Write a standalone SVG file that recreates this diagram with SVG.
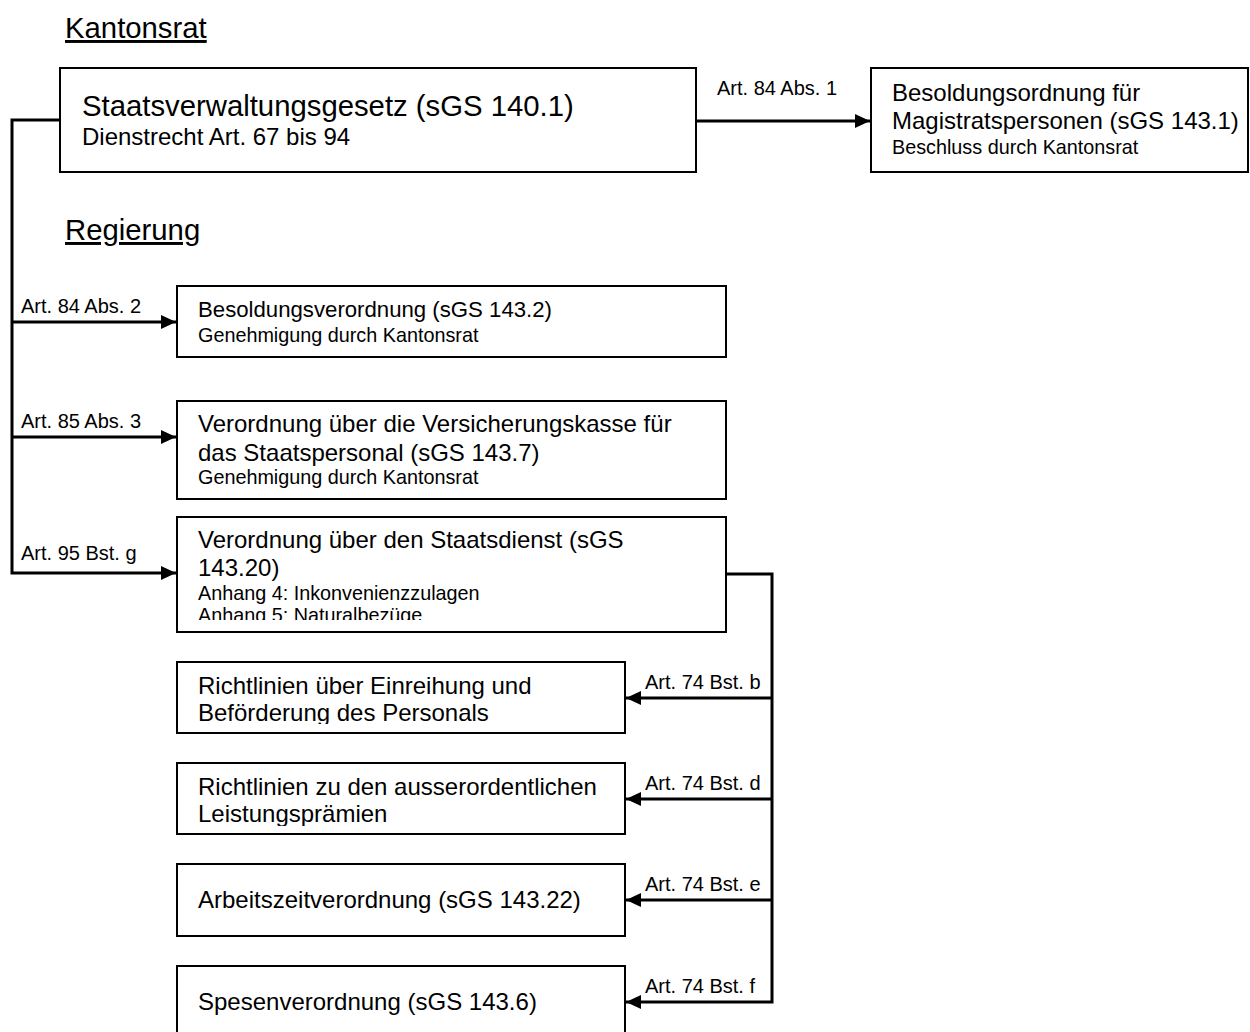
<svg xmlns="http://www.w3.org/2000/svg" width="1250" height="1032" viewBox="0 0 1250 1032">
<style>
.box{fill:#fff;stroke:#000;stroke-width:2}
text{font-family:"Liberation Sans",Arial,Helvetica,sans-serif;fill:#000}
.head{font-size:29.3px;text-decoration:underline}
.big{font-size:29.3px}
.main{font-size:24px}
.small{font-size:22.2px}
.sub{font-size:19.8px}
.lbl{font-size:20px}
.conn{stroke:#000;stroke-width:3;fill:none}
</style>
<defs>
<marker id="arr" markerUnits="userSpaceOnUse" markerWidth="16" markerHeight="14" refX="15" refY="7" orient="auto">
<path d="M0,0 L15,7 L0,14 z" fill="#000"/>
</marker>
<clipPath id="c5"><rect x="177" y="517" width="549" height="103"/></clipPath>
<clipPath id="c6"><rect x="177" y="662" width="448" height="62"/></clipPath>
<clipPath id="c7"><rect x="177" y="763" width="448" height="63"/></clipPath>
</defs>

<text class="head" x="65" y="38">Kantonsrat</text>
<text class="head" x="65" y="240">Regierung</text>

<g id="connectors">
<path class="conn" d="M60,120 H12 V573 H176" marker-end="url(#arr)"/>
<path class="conn" d="M12,322 H176" marker-end="url(#arr)"/>
<path class="conn" d="M12,437 H176" marker-end="url(#arr)"/>
<path class="conn" d="M696,121 H870" marker-end="url(#arr)"/>
<path class="conn" d="M726,574 H772 V1002 H626" marker-end="url(#arr)"/>
<path class="conn" d="M772,698 H626" marker-end="url(#arr)"/>
<path class="conn" d="M772,799 H626" marker-end="url(#arr)"/>
<path class="conn" d="M772,900 H626" marker-end="url(#arr)"/>
<text class="lbl" x="717" y="95">Art. 84 Abs. 1</text>
<text class="lbl" x="21" y="313">Art. 84 Abs. 2</text>
<text class="lbl" x="21" y="428">Art. 85 Abs. 3</text>
<text class="lbl" x="21" y="560">Art. 95 Bst. g</text>
<text class="lbl" x="645" y="689">Art. 74 Bst. b</text>
<text class="lbl" x="645" y="790">Art. 74 Bst. d</text>
<text class="lbl" x="645" y="891">Art. 74 Bst. e</text>
<text class="lbl" x="645" y="993">Art. 74 Bst. f</text>
</g>

<g id="n-staatsverwaltungsgesetz">
<rect class="box" x="60" y="68" width="636" height="104"/>
<text class="big" x="82" y="116">Staatsverwaltungsgesetz (sGS 140.1)</text>
<text class="main" x="82" y="145">Dienstrecht Art. 67 bis 94</text>
</g>

<g id="n-besoldungsordnung">
<rect class="box" x="871" y="68" width="377" height="104"/>
<text class="main" x="892" y="101">Besoldungsordnung für</text>
<text class="main" x="892" y="129">Magistratspersonen (sGS 143.1)</text>
<text class="sub" x="892" y="154">Beschluss durch Kantonsrat</text>
</g>

<g id="n-besoldungsverordnung">
<rect class="box" x="177" y="286" width="549" height="71"/>
<text class="small" x="198" y="317">Besoldungsverordnung (sGS 143.2)</text>
<text class="sub" x="198" y="342">Genehmigung durch Kantonsrat</text>
</g>

<g id="n-versicherungskasse">
<rect class="box" x="177" y="401" width="549" height="98"/>
<text class="main" x="198" y="432">Verordnung über die Versicherungskasse für</text>
<text class="main" x="198" y="461">das Staatspersonal (sGS 143.7)</text>
<text class="sub" x="198" y="484">Genehmigung durch Kantonsrat</text>
</g>

<g id="n-staatsdienst">
<rect class="box" x="177" y="517" width="549" height="115"/>
<g clip-path="url(#c5)">
<text class="main" x="198" y="548">Verordnung über den Staatsdienst (sGS</text>
<text class="main" x="198" y="576">143.20)</text>
<text class="sub" x="198" y="600">Anhang 4: Inkonvenienzzulagen</text>
<text class="sub" x="198" y="622">Anhang 5: Naturalbezüge</text>
</g>
</g>

<g id="n-einreihung">
<rect class="box" x="177" y="662" width="448" height="71"/>
<g clip-path="url(#c6)">
<text class="main" x="198" y="694">Richtlinien über Einreihung und</text>
<text class="main" x="198" y="721">Beförderung des Personals</text>
</g>
</g>

<g id="n-leistungspraemien">
<rect class="box" x="177" y="763" width="448" height="71"/>
<g clip-path="url(#c7)">
<text class="main" x="198" y="795">Richtlinien zu den ausserordentlichen</text>
<text class="main" x="198" y="822">Leistungsprämien</text>
</g>
</g>

<g id="n-arbeitszeit">
<rect class="box" x="177" y="864" width="448" height="72"/>
<text class="main" x="198" y="908">Arbeitszeitverordnung (sGS 143.22)</text>
</g>

<g id="n-spesen">
<rect class="box" x="177" y="966" width="448" height="80"/>
<text class="main" x="198" y="1010">Spesenverordnung (sGS 143.6)</text>
</g>
</svg>
